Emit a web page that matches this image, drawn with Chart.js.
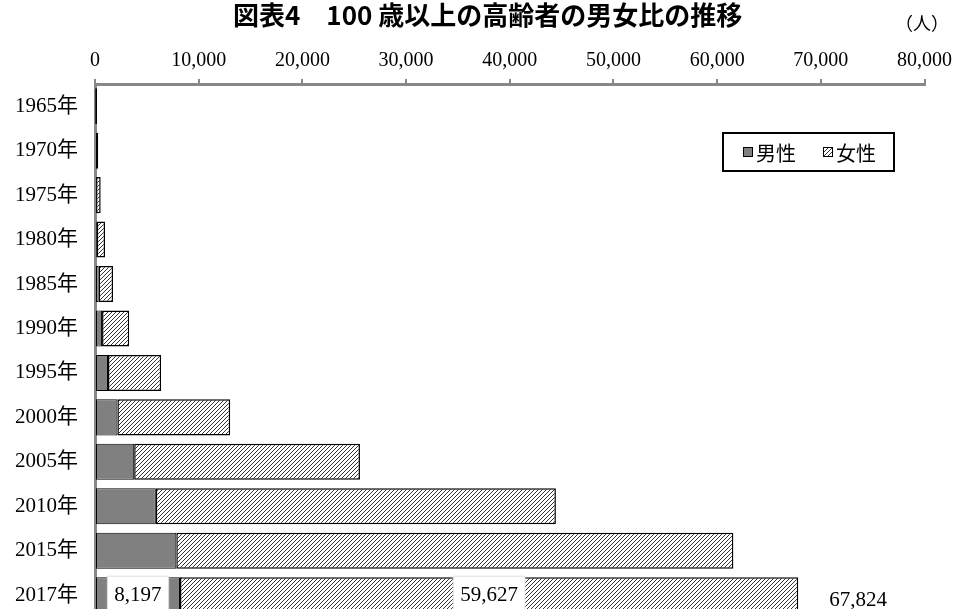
<!DOCTYPE html>
<html>
<head>
<meta charset="utf-8">
<script src="https://cdn.jsdelivr.net/npm/chart.js@4.4.1/dist/chart.umd.min.js"></script>
<style>
  html, body { margin: 0; padding: 0; background: #fff; overflow: hidden; }
  #wrap { width: 958px; height: 639px; }
</style>
</head>
<body>
<div id="wrap"><canvas id="chart" width="958" height="639"></canvas></div>
<script>
// Data
const years = ['1965年', '1970年', '1975年', '1980年', '1985年', '1990年', '1995年', '2000年', '2005年', '2010年', '2015年', '2017年'];
const male = [36, 93, 102, 174, 359, 680, 1255, 2158, 3779, 5869, 7840, 8197];
const female = [162, 217, 446, 794, 1381, 2618, 5123, 10878, 21775, 38580, 53728, 59627];
const totals = male.map((m, i) => m + female[i]);
const labeledYear = '2017年';

const serif = '"Liberation Serif", "DejaVu Serif", "Noto Sans CJK JP", serif';
const gothic = '"Noto Sans CJK JP", "Noto Sans", sans-serif';

// Hatch pattern for the female bars
function makeHatch() {
  const size = 4;
  const c = document.createElement('canvas');
  c.width = size;
  c.height = size;
  const g = c.getContext('2d');
  g.fillStyle = '#fff';
  g.fillRect(0, 0, size, size);
  g.strokeStyle = '#333';
  g.lineWidth = 1;
  g.beginPath();
  g.moveTo(-1, size + 1);
  g.lineTo(size + 1, -1);
  g.moveTo(-1, 1);
  g.lineTo(1, -1);
  g.moveTo(size - 1, size + 1);
  g.lineTo(size + 1, size - 1);
  g.stroke();
  return g.createPattern(c, 'repeat');
}
const hatch = makeHatch();

// Title, unit and legend box
const decorPlugin = {
  id: 'decor',
  afterDraw(chart) {
    const ctx = chart.ctx;
    ctx.save();
    ctx.fillStyle = '#000';
    ctx.textBaseline = 'middle';

    ctx.font = 'bold 26px ' + gothic;
    ctx.textAlign = 'left';
    ctx.fillText('図表4　100 歳以上の高齢者の男女比の推移', 233, 15);

    ctx.font = '18px ' + gothic;
    ctx.textAlign = 'center';
    ctx.fillText('（人）', 922, 23);

    // legend
    ctx.lineWidth = 2;
    ctx.strokeStyle = '#000';
    ctx.fillStyle = '#fff';
    ctx.fillRect(723, 133, 171, 38);
    ctx.strokeRect(723, 133, 171, 38);

    ctx.lineWidth = 1;
    ctx.fillStyle = '#808080';
    ctx.fillRect(743.5, 147.5, 9, 9);
    ctx.strokeRect(743.5, 147.5, 9, 9);
    ctx.fillStyle = hatch;
    ctx.fillRect(823.5, 147.5, 9, 9);
    ctx.strokeRect(823.5, 147.5, 9, 9);

    ctx.fillStyle = '#000';
    ctx.font = '20px ' + gothic;
    ctx.textAlign = 'left';
    ctx.fillText('男性', 756, 153);
    ctx.fillText('女性', 836, 153);
    ctx.restore();
  }
};

// Value labels for the last year
const valueLabels = {
  id: 'valueLabels',
  afterDatasetsDraw(chart) {
    const ctx = chart.ctx;
    const idx = years.indexOf(labeledYear);
    if (idx < 0) return;
    ctx.save();
    ctx.font = '21px ' + serif;
    ctx.textAlign = 'center';
    ctx.textBaseline = 'middle';

    [0, 1].forEach(ds => {
      const bar = chart.getDatasetMeta(ds).data[idx];
      const value = ds === 0 ? male[idx] : female[idx];
      const text = value.toLocaleString('en-US');
      const cx = (bar.x + bar.base) / 2;
      const w = ctx.measureText(text).width + 14;
      const h = bar.height + 2;
      ctx.fillStyle = '#fff';
      ctx.fillRect(cx - w / 2, bar.y - h / 2, w, h);
      ctx.strokeStyle = '#ddd';
      ctx.lineWidth = 1;
      ctx.strokeRect(cx - w / 2, bar.y - h / 2, w, h);
      ctx.fillStyle = '#000';
      ctx.fillText(text, cx, bar.y);
    });

    const last = chart.getDatasetMeta(1).data[idx];
    ctx.textAlign = 'left';
    ctx.fillText(totals[idx].toLocaleString('en-US'), last.x + 31, last.y + 5);
    ctx.restore();
  }
};

const ctx = document.getElementById('chart').getContext('2d');
new Chart(ctx, {
  type: 'bar',
  data: {
    labels: years,
    datasets: [
      {
        label: '男性',
        data: male,
        backgroundColor: '#808080',
        borderColor: '#000',
        borderWidth: 1,
        borderSkipped: false
      },
      {
        label: '女性',
        data: female,
        backgroundColor: hatch,
        borderColor: '#000',
        borderWidth: 1.5,
        borderSkipped: false
      }
    ]
  },
  options: {
    indexAxis: 'y',
    responsive: false,
    animation: false,
    layout: { padding: { top: 0, left: 0, right: 29, bottom: 0 } },
    plugins: {
      legend: { display: false },
      tooltip: { enabled: false }
    },
    datasets: {
      bar: { categoryPercentage: 1, barPercentage: 0.81 }
    },
    scales: {
      x: {
        position: 'top',
        stacked: true,
        min: 0,
        max: 80000,
        ticks: {
          stepSize: 10000,
          color: '#000',
          font: { family: serif, size: 20 },
          padding: 6,
          callback: v => v.toLocaleString('en-US')
        },
        grid: { drawOnChartArea: false, drawTicks: true, tickLength: 5, color: '#888', lineWidth: 2 },
        border: { display: true, color: '#888', width: 3 },
        afterFit: scale => { scale.height = 84; }
      },
      y: {
        stacked: true,
        ticks: {
          color: '#000',
          font: { family: serif, size: 21 },
          padding: 9
        },
        grid: { display: false },
        border: { display: true, color: '#888', width: 3 },
        afterFit: scale => { scale.width = 95; }
      }
    }
  },
  plugins: [decorPlugin, valueLabels]
});
</script>
</body>
</html>
